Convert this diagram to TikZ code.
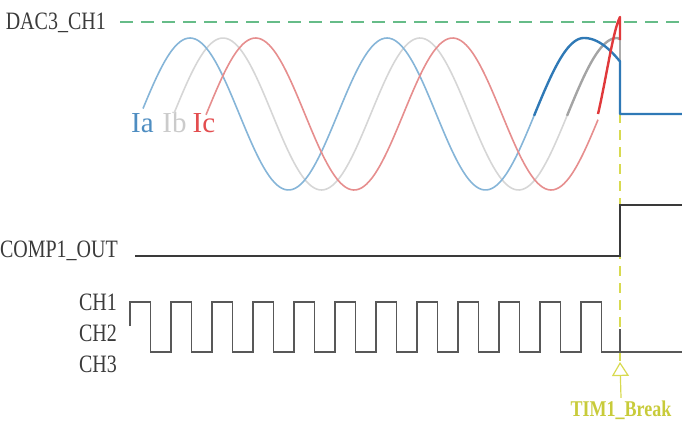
\documentclass[tikz,border=0pt]{standalone}
\usepackage{fontspec}
\setmainfont{Liberation Serif}
\newfontfamily\narrowfont[FakeStretch=0.8]{Liberation Serif}
\usetikzlibrary{arrows.meta, positioning}
\definecolor{dacgreen}{HTML}{66BC88}
\definecolor{phasea}{HTML}{86B5D8}
\definecolor{phaseadark}{HTML}{2F79B6}
\definecolor{phaseb}{HTML}{D6D6D6}
\definecolor{phasebdark}{HTML}{A4A4A4}
\definecolor{phasec}{HTML}{E68E8E}
\definecolor{phasecdark}{HTML}{E0393B}
\definecolor{breakyellow}{HTML}{D8DA50}
\definecolor{breaktext}{HTML}{C8CB3A}
\definecolor{siggray}{HTML}{3A3A3A}
\tikzset{
	siglabel/.style={
			inner sep=0pt,
			text=siggray,
			font=\narrowfont\fontsize{25}{30}\selectfont
		},
	phaselabel/.style={
			inner sep=0pt,
			font=\fontsize{29}{34}\selectfont
		}
}
\tikzset{
	dacline/.style={draw=dacgreen, line width=1.8pt, dash pattern=on 13pt off 8pt},
	breakline/.style={draw=breakyellow, line width=1.6pt, dash pattern=on 10pt off 7pt},
	compline/.style={draw=siggray, line width=2.2pt},
	pwmline/.style={draw=siggray!85, line width=1.3pt},
	wavelight/.style={line width=1.6pt, samples=150, smooth},
	wavestrong/.style={line width=2.4pt, samples=60, smooth, line join=round}
}

\begin{document}
\begin{tikzpicture}[x=1pt, y=-1pt]
  \useasboundingbox (0,0) rectangle (682,424);

  % labels
  \node[siglabel, anchor=base east] (dac) at (106,29) {DAC3\_CH1};
  \node[siglabel, anchor=base east] (comp) at (118,257) {COMP1\_OUT};
  \node[siglabel, anchor=base east] (ch1) at (117,310) {CH1};
  \node[siglabel, anchor=base east] (ch2) at (117,341) {CH2};
  \node[siglabel, anchor=base east] (ch3) at (117,372) {CH3};
  \node[phaselabel, anchor=base, text=phaseadark!85] (ia) at (142.5,132) {Ia};
  \node[phaselabel, anchor=base, text=phaseb!95!black] (ib) at (174.5,132) {Ib};
  \node[phaselabel, anchor=base, text=phasecdark!90] (ic) at (204,132) {Ic};
  \node[inner sep=2.5pt, text=breaktext, font=\narrowfont\bfseries\fontsize{22.5}{26}\selectfont] (brk) at (621,410) {TIM1\_Break};

  % reference level
  \coordinate (dacL) at (120,22);
  \coordinate (dacR) at (682,22);
  \draw[dacline] (dacL) -- (dacR);

  % break line
  \coordinate (brkTop) at (620,113);
  \coordinate (brkTip) at (620,362);
  \draw[breakline] (brkTop) -- (brkTip);
  \draw[draw=breakyellow, line width=1.2pt, -{Triangle[open, length=14pt, width=17pt]}] (brk.north) -- (brkTip);

  % phase currents (period 197)
  \draw[wavelight, phaseb, domain=174:567] plot (\x, {114-76*sin(1.827411*(\x-173.75))});
  \draw[wavelight, phasea, domain=143:534] plot (\x, {114-76*sin(1.827411*(\x-140.75))});
  \draw[wavelight, phasec, domain=206:598] plot (\x, {114-76*sin(1.827411*(\x-206.35))});

  \draw[wavestrong, phasebdark, domain=567:617] plot (\x, {114-76*sin(1.827411*(\x-173.75))})
    -- (620,39);
  \draw[line width=1.6pt, phaseb!80!black] (620,39) -- (620,62);
  \draw[wavestrong, phaseadark, domain=534:584] plot (\x, {114-76*sin(1.827411*(\x-140.75))});
  \draw[wavestrong, phaseadark, domain=584:620] plot (\x, {114-76*cos(90*(\x-584)/70)})
    -- (620,114) -- (682,114);
  \draw[wavestrong, phasecdark] (598,114) .. controls (606,80) and (613,30) .. (620,17) -- (620,40);

  % comparator output
  \coordinate (compL) at (135,256);
  \coordinate (compR) at (682,205);
  \draw[compline] (compL) -| (620,205) -- (compR);

  % pwm outputs
  \coordinate (pwmL) at (130,326);
  \coordinate (pwmR) at (682,352);
  \draw[pwmline] (pwmL) -- (130,302)
    \foreach \k in {0,...,10}{
      -- ({150.5+41*\k},302) -- ({150.5+41*\k},352) -- ({171+41*\k},352) -- ({171+41*\k},302)
    }
    -- (601.5,302) -- (601.5,352) -- (pwmR);
  \draw[pwmline] (620,352) -- (620,329);

\end{tikzpicture}
\end{document}
